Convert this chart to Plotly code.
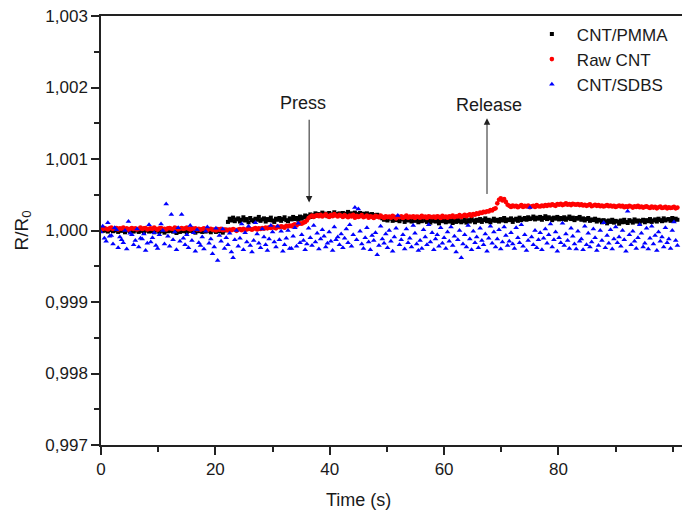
import plotly.graph_objects as go

# Sampling step of the resistance logger (s)
STEP_S = 0.3

# Relative resistance change, in ppm of R0 (R/R0 = 1 + ppm * 1e-6)
pmma_ppm = [
    # 0-22 s
    10, -5, 20, 0, -15, 5, 25, -10, 0, 15, -20, 5, -5, 10, -25, 0, 20, -10, 5, -15,
    0, 10, -20, -5, 15, -30, 0, 5, -15, 20, -10, -25, 5, 0, -20, 10, -5, -30, 15, -10,
    -5, 20, -15, 0, -35, 10, -20, 5, -10, 15, -25, 0, -5, 25, -15, -30, 5, -10, 10, -20,
    0, -15, 20, -5, -25, 10, 0, -20, 15, -10, 5, -30, 0, 10,
    # 22-36 s
    120, 165, 140, 180, 130, 155, 170, 125, 150, 185, 140, 160, 115, 175, 145, 130, 165, 150, 190, 135,
    155, 170, 125, 160, 145, 180, 140, 120, 165, 150, 175, 135, 160, 185, 145, 130, 170, 155, 190, 160,
    175, 150, 195, 165, 185, 210, 180,
    # 36-49 s
    200, 225, 190, 215, 240, 205, 230, 215, 250, 220, 235, 200, 245, 225, 210, 255, 230, 215, 240, 220,
    245, 210, 235, 260, 225, 240, 215, 250, 230, 205, 245, 220, 235, 210, 240, 225, 200, 230, 215, 195,
    220, 205, 185,
    # 49-63 s
    170, 150, 190, 140, 165, 180, 135, 160, 145, 175, 130, 155, 170, 120, 150, 140, 165, 125, 155, 135,
    160, 115, 145, 130, 170, 140, 120, 155, 110, 135, 150, 125, 145, 100, 140, 130, 155, 115, 135, 125,
    150, 105, 140, 120, 160, 130, 115,
    # 63-101 s
    130, 155, 110, 145, 125, 165, 140, 115, 150, 135, 160, 120, 145, 170, 130, 150, 115, 140, 165, 135,
    150, 125, 160, 140, 175, 130, 155, 145, 170, 120, 150, 165, 135, 180, 145, 160, 175, 150, 185, 160,
    170, 195, 155, 180, 165, 190, 150, 175, 200, 160, 185, 170, 145, 180, 165, 190, 155, 175, 160, 185,
    150, 170, 195, 160, 180, 145, 175, 165, 190, 150, 170, 140, 160, 175, 135, 155, 145, 165, 125, 150,
    140, 115, 145, 130, 100, 140, 120, 150, 110, 135, 125, 95, 140, 115, 150, 120, 105, 145, 130, 110,
    155, 125, 140, 100, 135, 150, 115, 145, 130, 160, 120, 140, 155, 125, 165, 145, 130, 170, 140, 155,
    160, 135, 175, 145, 165, 150,
]

raw_ppm = [
    # 0-16 s
    30, 20, 35, 25, 15, 30, 40, 20, 25, 35, 15, 30, 25, 40, 20, 30, 10, 25, 35, 20,
    30, 15, 25, 40, 20, 30, 35, 15, 25, 30, 20, 40, 25, 10, 30, 35, 20, 25, 15, 30,
    35, 25, 20, 40, 30, 15, 25, 35, 20, 30, 40, 25, 15, 30,
    # 16-33 s
    20, 30, 15, 25, 10, 20, 30, 15, 5, 20, 25, 10, 15, 0, 20, 10, 25, 5, 15, 10,
    0, 15, 5, 20, 10, -5, 15, 20, 5, 25, 10, 15, 30, 20, 10, 25, 35, 15, 30, 20,
    35, 25, 40, 30, 45, 35, 50, 40, 30, 55, 45, 60, 50, 40, 65, 55, 70, 60,
    # press
    75, 85, 70, 90, 100, 95, 110, 120, 140,
    # 36-58 s
    175, 195, 210, 190, 205, 215, 200, 220, 195, 210, 225, 205, 190, 215, 200, 230, 210, 195, 220, 205,
    190, 215, 200, 185, 210, 195, 220, 180, 205, 190, 200, 215, 185, 195, 210, 180, 200, 190, 175, 205,
    195, 185, 210, 190, 175, 200, 185, 195, 180, 205, 190, 170, 195, 185, 200, 175, 190, 210, 180, 195,
    185, 200, 175, 195, 190, 180, 205, 185, 195, 175, 200, 190, 185,
    # 58-69 s
    195, 180, 200, 190, 175, 205, 185, 195, 180, 200, 190, 210, 185, 200, 195, 215, 190, 205, 220, 200,
    215, 225, 205, 230, 220, 240, 230, 250, 245, 260, 255, 270, 265, 285, 280, 300, 310,
    # release overshoot
    380, 430, 450, 420, 440, 400,
    # 71-101 s
    360, 345, 330, 350, 335, 345, 325, 340, 355, 330, 345, 335, 350, 325, 340, 345, 330, 355, 340, 335,
    350, 340, 355, 345, 360, 350, 365, 355, 345, 370, 360, 375, 355, 365, 380, 360, 370, 355, 375, 365,
    360, 370, 355, 365, 350, 360, 345, 355, 365, 340, 350, 360, 345, 355, 340, 350, 335, 345, 355, 340,
    350, 335, 345, 330, 340, 350, 335, 345, 325, 340, 330, 345, 335, 320, 340, 330, 345, 325, 335, 320,
    330, 340, 325, 315, 335, 320, 330, 310, 325, 335, 315, 320, 330, 310, 325, 315, 320, 330, 310, 320,
]

sdbs_ppm = [
    -20, 60, -110, -150, 110, -80, -70, -190, 40, 10, -240, -90, -130, -170, 0, -260, 125, -40, -60, -200,
    -140, 20, -230, -110, -120, -50, -280, -180, 80, -160, -100, -30, -210, -250, -60, 90, 0, -190, 370, -80,
    -220, 225, -130, -20, -270, 40, -150, 225, -110, -200, -60, -240, 70, -140, -30, -290, 10, -170, -210, -90,
    -260, -10, 50, -180, -120, -325, -230, 30, -420, -70, -150, 20, -250, -100, -200, -40, -300, -380, -130, 0,
    -220, -110, 90, -270, -30, -160, 60, -210, -300, -140, 110, -50, -180, -240, 20, -90, -200, -280, -120, 70,
    -20, -160, -230, 60, -130, -10, -290, -200, -110, 0, -250, -250, -80, 40, -220, 100, -170, -60, -140, -270,
    -190, 30, -100, -210, 70, -160, -40, -260, -120, 10, -80, -230, -180, -20, -150, -280, 50, -130, -90, -200,
    -50, -240, -110, 20, -170, 80, -220, -60, 320, -130, 300, -10, -190, -250, -100, 40, -160, -270, -70, -140,
    -30, -340, -210, 60, -120, -180, -50, -240, 0, -150, -290, -90, 30, 210, -200, -130, -60, -260, 20, -170,
    -110, -230, 70, -40, -190, -280, -140, -250, 10, -90, -200, 80, -160, -30, -270, -120, -60, -220, 40, -180,
    -100, -250, -20, -150, 50, -210, -80, -300, -130, 0, -380, -190, -60, -230, 70, -120, -270, -10, -170, -90,
    -240, 30, -140, -200, -50, -290, -110, 60, -180, -20, -230, -120, 10, -260, -160, 50, -70, -210, -150, -30,
    -190, -250, 40, -100, -170, 80, -220, -60, -280, -140, 320, -90, -200, 0, -240, -130, -30, -270, -110, 20,
    -180, -60, 90, -230, -130, -20, -290, -100, -170, 100, -210, -50, -140, -250, 30, -80, -190, -260, -10, -150,
    -120, -270, 60, -200, -40, -230, -160, 20, -100, -280, -210, 0, -140, 110, -240, -70, -180, 10, -260, -120,
    50, -170, -90, -220, 0, -130, -290, 270, -60, -200, -10, -150, -250, -100, 80, -40, -230, -180, 30, -260,
    -110, 60, -190, -70, -280, -20, -150, -90, -230, 40, -170, -120, -250, 0, 120, -140, -210,
]

series_names = ["CNT/PMMA", "Raw CNT", "CNT/SDBS"]
x_ticks = [0, 20, 40, 60, 80]
y_ticks = [0.997, 0.998, 0.999, 1.000, 1.001, 1.002, 1.003]

# Events marked on the trace: (label, time of arrow, arrow tail R/R0, arrow tip R/R0)
press_event = ("Press", 36.4, 1.00157, 1.00039)
release_event = ("Release", 67.5, 1.00049, 1.00157)

time_s = [round(i * STEP_S, 1) for i in range(len(pmma_ppm))]


def ratio(ppm_values):
    return [1.0 + v * 1e-6 for v in ppm_values]


FONT = "Liberation Sans, Arial, sans-serif"
INK = "#1a1a1a"

fig = go.Figure()
styles = [
    (pmma_ppm, "#000000", "square", 4),
    (raw_ppm, "#ff0000", "circle", 4.6),
    (sdbs_ppm, "#0000ff", "triangle-up", 5),
]
for name, (vals, color, symbol, size) in zip(series_names, styles):
    fig.add_trace(go.Scatter(
        x=time_s[:len(vals)], y=ratio(vals), mode="markers", name=name,
        marker=dict(color=color, symbol=symbol, size=size, line=dict(width=0)),
    ))

for label, t, tail, tip in (press_event, release_event):
    fig.add_annotation(
        x=t, y=tip, ax=t, ay=tail, xref="x", yref="y", axref="x", ayref="y",
        text="", showarrow=True, arrowhead=2, arrowsize=1.3, arrowwidth=1,
        arrowcolor="#222222", standoff=0, startstandoff=0,
    )

fig.add_annotation(x=35.3, y=1.00178, xref="x", yref="y", text=press_event[0],
                   showarrow=False, font=dict(family=FONT, size=18, color=INK))
fig.add_annotation(x=67.8, y=1.00175, xref="x", yref="y", text=release_event[0],
                   showarrow=False, font=dict(family=FONT, size=18, color=INK))

# Axis titles
fig.add_annotation(x=45.1, y=0, xref="x", yref="paper", yanchor="middle", yshift=-55,
                   text="Time (s)", showarrow=False,
                   font=dict(family=FONT, size=18, color=INK))
fig.add_annotation(x=0, y=0.5, xref="paper", yref="paper", xanchor="center",
                   yanchor="middle", xshift=-79, textangle=-90,
                   text="R/R<sub>0</sub>", showarrow=False,
                   font=dict(family=FONT, size=19, color=INK))

fig.update_layout(
    width=682, height=515,
    margin=dict(l=101, r=0, t=16, b=70),
    paper_bgcolor="white", plot_bgcolor="white",
    separators=",.",
    font=dict(family=FONT, color=INK),
    showlegend=True,
    legend=dict(x=0.733, y=0.999, xanchor="left", yanchor="top",
                bgcolor="rgba(0,0,0,0)", borderwidth=0,
                font=dict(family=FONT, size=17, color=INK),
                itemwidth=40, itemsizing="trace", tracegroupgap=0),
)
fig.update_xaxes(
    range=[0, 101.6], tickvals=x_ticks, ticks="outside", ticklen=8, tickwidth=1.5,
    tickcolor="#222222", showline=True, linecolor="#222222", linewidth=1.5,
    mirror=True, showgrid=False, zeroline=False,
    tickfont=dict(family=FONT, size=17, color=INK),
    minor=dict(dtick=10, tick0=0, ticks="outside", ticklen=5, tickwidth=1.5,
               tickcolor="#222222", showgrid=False),
)
fig.update_yaxes(
    range=[0.997, 1.003], tickvals=y_ticks, tickformat=".3f", ticks="outside",
    ticklen=8, tickwidth=1.5, tickcolor="#222222", showline=True,
    linecolor="#222222", linewidth=1.5, mirror=False, showgrid=False, zeroline=False,
    tickfont=dict(family=FONT, size=17, color=INK),
    minor=dict(dtick=0.0005, tick0=0.997, ticks="outside", ticklen=5, tickwidth=1.5,
               tickcolor="#222222", showgrid=False),
)

fig.write_html("out.html")
